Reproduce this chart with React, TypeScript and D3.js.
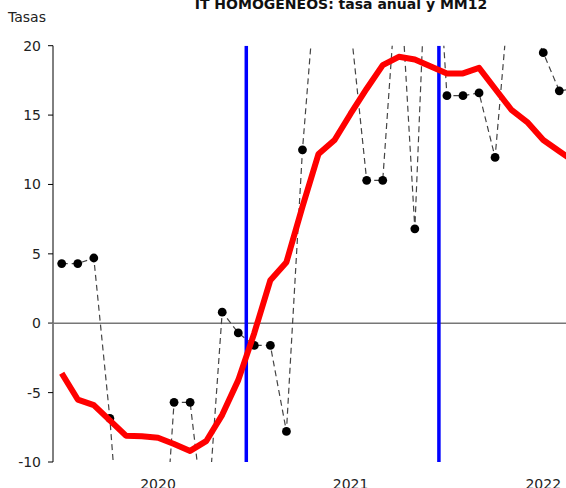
import React from 'react';
import * as d3 from 'd3';

// meses (jul 2019 - mar 2022)
const meses = [
  '2019-07', '2019-08', '2019-09', '2019-10', '2019-11', '2019-12',
  '2020-01', '2020-02', '2020-03', '2020-04', '2020-05', '2020-06',
  '2020-07', '2020-08', '2020-09', '2020-10', '2020-11', '2020-12',
  '2021-01', '2021-02', '2021-03', '2021-04', '2021-05', '2021-06',
  '2021-07', '2021-08', '2021-09', '2021-10', '2021-11', '2021-12',
  '2022-01', '2022-02', '2022-03',
];

// tasa anual (puntos negros)
const tasaAnual = [
  4.3, 4.3, 4.7, -6.85, -22, -25, -23, -5.7, -5.7, -15.5, 0.8, -0.7,
  -1.6, -1.6, -7.8, 12.5, 26.9, 24, 21.4, 10.3, 10.3, 26.7, 6.8, 35,
  16.4, 16.4, 16.6, 11.95, 25.3, 22, 19.5, 16.75, 16.9,
];

// media movil 12 meses (linea roja)
const mm12 = [
  -3.6, -5.5, -5.9, -7.0, -8.1, -8.15, -8.25, -8.7, -9.2, -8.5, -6.6, -4.1,
  -0.7, 3.1, 4.4, 8.4, 12.2, 13.2, 15.1, 16.9, 18.6, 19.2, 19.0, 18.5,
  18.0, 18.0, 18.4, 16.9, 15.4, 14.5, 13.2, 12.4, 11.6,
];

const yTicks = [-10, -5, 0, 5, 10, 15, 20];
const anios = ['2020', '2021', '2022'];
// lineas azules: entre junio y julio
const marcas = ['2020-06', '2021-06'];

const W = 566;
const H = 488;
const font = 'DejaVu Sans, Verdana, sans-serif';

export default function App() {
  const x = d3.scaleLinear().domain([0, 31]).range([61.7, 559.3]);
  const y = d3.scaleLinear().domain([-10, 20]).range([462, 45.7]);
  const left = 53;

  const linea = d3.line<number>()
    .x((d, i) => x(i))
    .y(d => y(d));

  return (
    <div style={{ position: 'absolute', left: 0, top: 0 }}>
      <svg width={W} height={H} style={{ display: 'block' }} fontFamily={font}>
        <defs>
          <clipPath id="area">
            <rect x={left} y={y(20)} width={W - left + 50} height={y(-10) - y(20)} />
          </clipPath>
        </defs>

        <text x={341} y={9} textAnchor="middle" fontSize={14} fontWeight="bold" fill="#111">
          IT HOMOGENEOS: tasa anual y MM12
        </text>
        <text x={8} y={22} fontSize={14} fill="#222">Tasas</text>

        {/* eje y */}
        <line x1={left} x2={left} y1={y(20)} y2={y(-10)} stroke="#000" strokeWidth={1} />
        {yTicks.map(t => (
          <g key={t}>
            <line x1={left - 5} x2={left} y1={y(t)} y2={y(t)} stroke="#000" strokeWidth={1} />
            <text x={41} y={y(t) + 5} textAnchor="end" fontSize={14} fill="#222">{t}</text>
          </g>
        ))}

        {/* linea de cero */}
        <line x1={left - 5} x2={W} y1={y(0)} y2={y(0)} stroke="#777" strokeWidth={1.5} />

        {/* años */}
        {anios.map(a => (
          <text key={a} x={x(meses.indexOf(a + '-01'))} y={489} textAnchor="middle" fontSize={14} fill="#222">
            {a}
          </text>
        ))}

        <g clipPath="url(#area)">
          {marcas.map(m => (
            <line key={m} x1={x(meses.indexOf(m) + 0.5)} x2={x(meses.indexOf(m) + 0.5)}
              y1={y(20)} y2={y(-10)} stroke="#0000ff" strokeWidth={3.5} />
          ))}
          <path d={linea(tasaAnual) || ''} fill="none" stroke="#444" strokeWidth={1.2} strokeDasharray="6,4" />
          {tasaAnual.map((v, i) => (
            <circle key={i} cx={x(i)} cy={y(v)} r={4.4} fill="#000" />
          ))}
          <path d={linea(mm12) || ''} fill="none" stroke="#ff0000" strokeWidth={6} strokeLinejoin="round" />
        </g>
      </svg>
    </div>
  );
}
